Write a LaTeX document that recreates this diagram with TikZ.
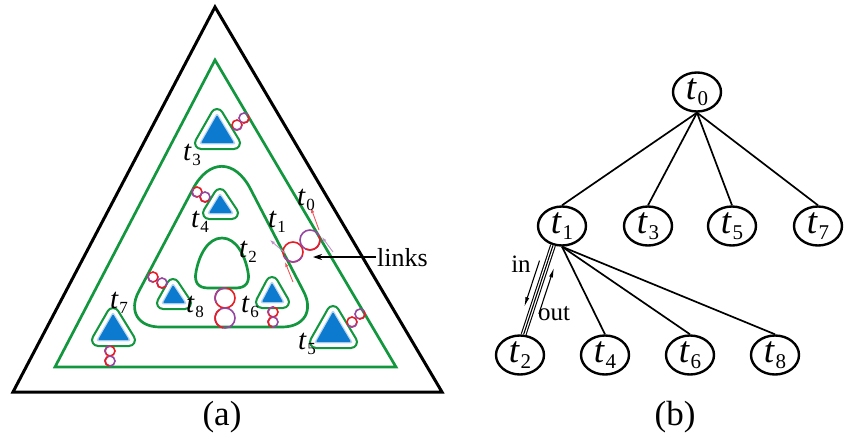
\documentclass[tikz,border=0pt]{standalone}
\usepackage{fontspec}
\setmainfont{Liberation Serif}
\usepackage{graphicx}
\usetikzlibrary{arrows.meta,calc,shapes.geometric}

\definecolor{lgreen}{RGB}{18,150,62}
\definecolor{lblue}{RGB}{12,122,206}
\definecolor{lred}{RGB}{232,28,36}
\definecolor{lpurple}{RGB}{150,70,160}

% t_i labels: panel (a) and tree (b)
\newcommand\plab[1]{{\fontsize{29}{29}\selectfont\textit{t}\kern0.5pt\raisebox{-5pt}{\fontsize{17}{17}\selectfont #1}}}
\newcommand\tlab[1]{{\fontsize{37}{37}\selectfont\textit{t}\kern0.5pt\raisebox{-6pt}{\fontsize{21}{21}\selectfont #1}}}

% blue triangle with a green rounded outline around it
\newcommand\blob[6]{%
  \draw[lgreen, line width=14pt, line join=round] (#1,#2) -- (#3,#4) -- (#5,#6) -- cycle;
  \draw[white, line width=9.6pt, line join=round] (#1,#2) -- (#3,#4) -- (#5,#6) -- cycle;
  \draw[lblue!30, line width=2.5pt, line join=round] (#1,#2) -- (#3,#4) -- (#5,#6) -- cycle;
  \fill[lblue, rounded corners=1pt] (#1,#2) -- (#3,#4) -- (#5,#6) -- cycle;
}

% two interlocked rings
\newcommand\ringpair[5]{%
  \pgfmathsetmacro\rpa{atan2(#4-#2,#3-#1)}%
  \pgfmathsetmacro\rpb{\rpa+60}\pgfmathsetmacro\rpc{\rpa+190}%
  \pgfmathsetmacro\rpd{\rpa+10}\pgfmathsetmacro\rpe{\rpa+150}%
  \draw[ring, lred] (#1,#2) circle[radius=#5];
  \draw[ring, lpurple] (#3,#4) circle[radius=#5];
  \draw[ring, lpurple] (#1,#2) ++(\rpb:#5) arc[start angle=\rpb, end angle=\rpc, radius=#5];
  \draw[ring, lred] (#3,#4) ++(\rpd:#5) arc[start angle=\rpd, end angle=\rpe, radius=#5];
}

\begin{document}
\begin{tikzpicture}[x=1pt,y=-1pt,
  gline/.style={lgreen, line width=2.7pt},
  ring/.style={line width=1.6pt},
  plabel/.style={inner sep=0pt},
  tn/.style={ellipse, draw, line width=2.4pt, minimum width=48pt, minimum height=39pt, inner sep=0pt},
  tedge/.style={line width=1.7pt},
  captext/.style={font=\fontsize{35}{35}\selectfont, anchor=base},
  word/.style={font=\fontsize{25}{25}\selectfont, anchor=base, inner sep=1pt},
  orient/.style={line width=0.9pt, -{Latex[length=5pt,width=3.5pt]}}]
\useasboundingbox (0,0) rectangle (846,436);

% ---------- panel (a) ----------
\draw[line width=3pt, line join=miter] (215,7) -- (442,392) -- (13,392) -- cycle;
\draw[gline, line join=miter] (215,60) -- (396,367) -- (55,367) -- cycle;

% inner rounded triangle t1
\coordinate (IA) at (222,134);
\coordinate (IL) at (120,327);
\coordinate (IR) at (322,327);
\draw[gline] ($(IL)!40pt!(IR)$) -- ($(IR)!40pt!(IL)$)
  .. controls ($(IR)!18pt!(IL)$) and ($(IR)!18pt!(IA)$) .. ($(IR)!40pt!(IA)$)
  -- ($(IA)!62pt!(IR)$)
  .. controls ($(IA)!28pt!(IR)$) and ($(IA)!28pt!(IL)$) .. ($(IA)!62pt!(IL)$)
  -- ($(IL)!40pt!(IA)$)
  .. controls ($(IL)!18pt!(IA)$) and ($(IL)!18pt!(IR)$) .. cycle;

% hole t2
\draw[gline] (221,288) -- (236,288) .. controls (246,288) and (250,282) .. (248,272)
  .. controls (245,255) and (236,238) .. (222,238)
  .. controls (208,238) and (199,255) .. (196,272)
  .. controls (194,282) and (198,288) .. (208,288) -- cycle;

% blobs t3, t4, t8, t6, t7, t5
\blob{217}{115}{201}{143}{234}{143}
\blob{220}{195}{209}{213}{232}{213}
\blob{173}{285}{163}{303}{185}{303}
\blob{272}{283}{262}{302}{283}{302}
\blob{113}{314}{98}{340}{129}{340}
\blob{333}{312}{316}{342}{351}{342}

% rings
\ringpair{237}{125}{244}{118}{5}
\ringpair{197}{192}{205}{197}{5}
\ringpair{153}{277}{162}{283}{5}
\ringpair{273}{312}{273}{322}{5}
\ringpair{225}{298}{225}{318}{10}
\ringpair{110}{351}{110}{361}{5}
\ringpair{352}{322}{360}{314}{5}
\ringpair{293}{252}{310}{240}{10}

% orientation marks near the t0--t1 link
\draw[orient, lred!75] (319,230) -- (311,208);
\draw[orient, lpurple!60] (333,252) -- (322,237);
\draw[orient, lpurple!60] (285,253) -- (270,240);
\draw[orient, lred!75] (293,282) -- (285,262);

% labels
\node[plabel] (la0) at (306,200) {\plab{0}};
\node[plabel] (la1) at (277,222) {\plab{1}};
\node[plabel] (la2) at (248,252) {\plab{2}};
\node[plabel] (la3) at (192,155) {\plab{3}};
\node[plabel] (la4) at (200,222) {\plab{4}};
\node[plabel] (la5) at (307,344) {\plab{5}};
\node[plabel] (la6) at (250,307) {\plab{6}};
\node[plabel] (la7) at (119,303) {\plab{7}};
\node[plabel] (la8) at (195,307) {\plab{8}};

\node[word, anchor=base west, font=\fontsize{26}{26}\selectfont] (lk) at (376,266) {links};
\coordinate (lkend) at (313,257);
\draw[line width=1.2pt, -{Stealth[length=9pt,width=6pt]}] (lk.west |- lkend) -- (lkend);

\node[captext] (capa) at (222,425) {(a)};

% ---------- panel (b) ----------
\node[tn] (t0) at (697,92) {\tlab{0}};
\node[tn] (t1) at (562,226) {\tlab{1}};
\node[tn] (t3) at (648,226) {\tlab{3}};
\node[tn] (t5) at (732,226) {\tlab{5}};
\node[tn] (t7) at (818,226) {\tlab{7}};
\node[tn] (t2) at (520,355) {\tlab{2}};
\node[tn] (t4) at (605,355) {\tlab{4}};
\node[tn] (t6) at (690,355) {\tlab{6}};
\node[tn] (t8) at (775,355) {\tlab{8}};

\foreach \c in {t1,t3,t5,t7} \draw[tedge] (t0.south) -- (\c.north);
\foreach \c in {t4,t6,t8} \draw[tedge] (t1.south) -- (\c.north);

% t1 -- t2 triple link with in/out arrows
\draw[line width=1.1pt, double, double distance=3.6pt] (t1.245) -- (t2.80);
\draw[line width=1.1pt] (t1.245) -- (t2.80);
\draw[line width=1.1pt, -{Latex[length=10pt,width=4pt]}]
  ($(t1.245)!0.2!(t2.80)+(-7.6,-2.5)$) -- ($(t1.245)!0.72!(t2.80)+(-7.6,-2.5)$);
\draw[line width=1.1pt, -{Latex[length=10pt,width=4pt]}]
  ($(t1.245)!0.74!(t2.80)+(7.6,2.5)$) -- ($(t1.245)!0.22!(t2.80)+(7.6,2.5)$);
\node[word] (win) at (521,272) {in};
\node[word] (wout) at (554,320) {out};

\node[captext] (capb) at (675,425) {(b)};
\end{tikzpicture}
\end{document}
